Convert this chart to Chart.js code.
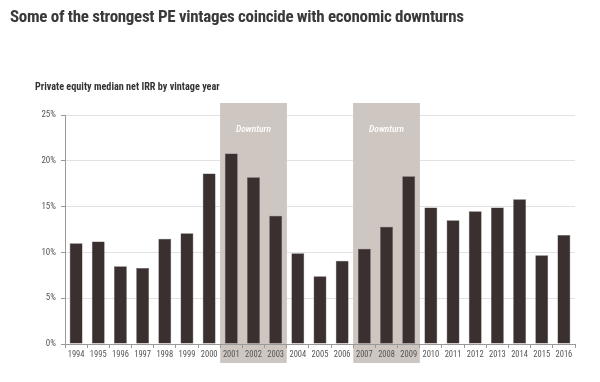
<!DOCTYPE html>
<html><head><meta charset="utf-8">
<script src="https://cdn.jsdelivr.net/npm/chart.js@4"></script>
<style>
html,body{margin:0;padding:0;background:#fff;}
#wrap{position:relative;width:600px;height:382px;overflow:hidden;}
canvas{position:absolute;left:0;top:0;}
#title{position:absolute;left:10px;top:6px;font-family:Roboto,sans-serif;font-stretch:condensed;font-weight:bold;font-size:17px;letter-spacing:-0.3px;color:#3a3a3a;white-space:nowrap;}
#sub{position:absolute;left:35px;top:81px;font-family:Roboto,sans-serif;font-stretch:condensed;font-size:10.2px;color:#333;font-weight:bold;white-space:nowrap;}
</style></head>
<body><div id="wrap">
<canvas id="c" width="600" height="382"></canvas>
<div id="title">Some of the strongest PE vintages coincide with economic downturns</div>
<div id="sub">Private equity median net IRR by vintage year</div>
</div>
<script>
const years = ["1994","1995","1996","1997","1998","1999","2000","2001","2002","2003","2004","2005","2006","2007","2008","2009","2010","2011","2012","2013","2014","2015","2016"];
const irr = [11.0,11.2,8.5,8.3,11.5,12.1,18.6,20.8,18.2,14.0,9.9,7.4,9.1,10.4,12.8,18.3,14.9,13.5,14.5,14.9,15.8,9.7,11.9];
const yTicks = [0,5,10,15,20,25];
const downturns = [["2001","2003"],["2007","2009"]];
const downturnLabel = "Downturn";

const SHADE = '#cec6c0';

function shadeRects(chart){
  const x = chart.scales.x;
  const half = (x.getPixelForValue(1) - x.getPixelForValue(0)) / 2;
  return downturns.map(([a,b]) => {
    const i0 = years.indexOf(a), i1 = years.indexOf(b);
    return {l: x.getPixelForValue(i0) - half, r: x.getPixelForValue(i1) + half};
  });
}

const shadePlugin = {
  id: 'shade',
  beforeDraw(chart){
    const ctx = chart.ctx, ca = chart.chartArea;
    ctx.save();
    ctx.fillStyle = SHADE;
    shadeRects(chart).forEach(s => ctx.fillRect(s.l, ca.top - 12, s.r - s.l, ca.bottom - ca.top + 31));
    ctx.restore();
  },
  beforeDatasetsDraw(chart){
    const ctx = chart.ctx, ca = chart.chartArea;
    ctx.save();
    ctx.fillStyle = SHADE;
    shadeRects(chart).forEach(s => ctx.fillRect(s.l, ca.top - 12, s.r - s.l, ca.bottom - ca.top + 11.5));
    ctx.fillStyle = '#ffffff';
    ctx.font = 'italic condensed 500 9.5px Roboto';
    ctx.textAlign = 'center';
    ctx.textBaseline = 'middle';
    shadeRects(chart).forEach(s => ctx.fillText(downturnLabel, (s.l + s.r) / 2, ca.top + 15));
    ctx.restore();
  }
};

new Chart(document.getElementById('c'), {
  type: 'bar',
  data: {
    labels: years,
    datasets: [{
      data: irr,
      backgroundColor: '#3a3030',
      borderColor: '#5a5050',
      borderWidth: 0.5,
      barPercentage: 0.58,
      categoryPercentage: 1.0
    }]
  },
  options: {
    responsive: false,
    animation: false,
    devicePixelRatio: 1,
    layout: {padding: {top: 115, right: 25, bottom: 0, left: 0}},
    plugins: {legend: {display: false}, tooltip: {enabled: false}, title: {display: false}},
    scales: {
      x: {
        afterFit(s){ s.height = 38; },
        grid: {display: true, offset: true, drawOnChartArea: false, drawTicks: true, tickLength: 4, color: '#999'},
        border: {display: true, color: '#999', width: 1},
        ticks: {color: '#555', font: {family: 'Roboto', weight: 'condensed', size: 8.5}, padding: 2, maxRotation: 0, autoSkip: false}
      },
      y: {
        min: 0, max: 25,
        afterFit(s){ s.width = 65; },
        afterBuildTicks(s){ s.ticks = yTicks.map(v => ({value: v})); },
        grid: {color: '#e2e2e2', lineWidth: 1, drawTicks: true, tickLength: 4, tickColor: '#999'},
        border: {display: true, color: '#999', width: 1},
        ticks: {color: '#555', font: {family: 'Roboto', weight: 'condensed', size: 9}, padding: 5, callback: v => v + '%'}
      }
    }
  },
  plugins: [shadePlugin]
});
</script>
</body></html>
